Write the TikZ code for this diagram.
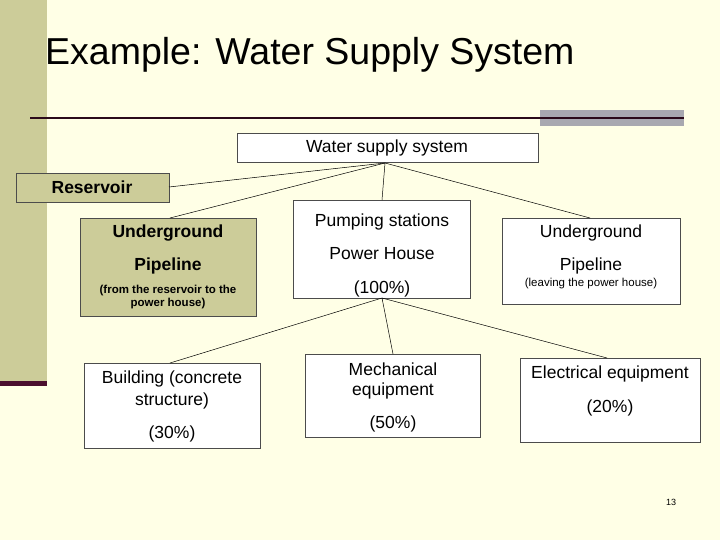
\documentclass[tikz,border=0pt]{standalone}
\usepackage{fontspec}
\setmainfont{Liberation Sans}
\definecolor{bg}{RGB}{255,255,230}
\definecolor{khaki}{RGB}{204,204,153}
\definecolor{maroon}{RGB}{75,15,46}
\definecolor{dark}{RGB}{43,10,26}
\definecolor{greybar}{RGB}{168,168,176}
\begin{document}
\begin{tikzpicture}[x=1pt,y=-1pt,
  box/.style={draw=black!70,line width=0.6pt,fill=white},
  kbox/.style={draw=black!70,line width=0.6pt,fill=khaki},
  t/.style={font=\fontsize{17.5}{20}\selectfont,inner sep=0pt},
  tb/.style={font=\bfseries\fontsize{17.5}{20}\selectfont,inner sep=0pt},
  ts/.style={font=\bfseries\fontsize{11.5}{13}\selectfont,inner sep=0pt,align=center},
  tsn/.style={font=\fontsize{11.5}{13}\selectfont,inner sep=0pt},
  con/.style={draw=black,line width=0.5pt}]
\fill[bg] (0,0) rectangle (720,540);
\useasboundingbox (0,0) rectangle (720,540);
\fill[khaki] (0,0) rectangle (47,382);
\fill[maroon] (0,381) rectangle (47,386);
\fill[greybar] (540,110) rectangle (684,126);
\fill[dark] (30,117) rectangle (684,119.5);
\node[anchor=west,inner sep=0pt,font=\fontsize{37.5}{40}\selectfont] (title) at (45,55) {Example: Water Supply System};
% boxes
\draw[box] (237,133) rectangle (538,162);
\node[t] (wss) at (387,148) {Water supply system};
\coordinate (wssb) at (385,163);
\draw[kbox] (16,173) rectangle (169,202);
\node[tb] (res) at (92,187) {Reservoir};
\coordinate (resr) at (169,187);
\draw[kbox] (80,218) rectangle (256,316);
\node[tb] (ul1) at (168,233) {Underground};
\node[tb] (ul2) at (168,266) {Pipeline};
\node[ts] (ul3) at (168,297) {(from the reservoir to the\\power house)};
\coordinate (ult) at (170,218);
\draw[box] (293,200) rectangle (470,298);
\node[t] (p1) at (382,222) {Pumping stations};
\node[t] (p2) at (382,254) {Power House};
\node[t] (p3) at (382,289) {(100\%)};
\coordinate (pt) at (382,200);
\coordinate (pb) at (382,298);
\draw[box] (502,218) rectangle (680,304);
\node[t] (ur1) at (591,233) {Underground};
\node[t] (ur2) at (591,266) {Pipeline};
\node[tsn] (ur3) at (591,284) {(leaving the power house)};
\coordinate (urt) at (590,218);
\draw[box] (84,363) rectangle (260,448);
\node[t] (b1) at (172,379) {Building (concrete};
\node[t] (b2) at (172,401) {structure)};
\node[t] (b3) at (172,434) {(30\%)};
\coordinate (bt) at (170,363);
\draw[box] (305,354) rectangle (480,437);
\node[t] (m1) at (393,369) {Mechanical};
\node[t] (m2) at (393,391) {equipment};
\node[t] (m3) at (393,424) {(50\%)};
\coordinate (mt) at (393,354);
\draw[box] (520,358) rectangle (700,442);
\node[t] (e1) at (610,374) {Electrical equipment};
\node[t] (e2) at (610,408) {(20\%)};
\coordinate (et) at (607,358);
% connectors
\draw[con] (wssb) -- (resr);
\draw[con] (wssb) -- (ult);
\draw[con] (wssb) -- (pt);
\draw[con] (wssb) -- (urt);
\draw[con] (pb) -- (bt);
\draw[con] (pb) -- (mt);
\draw[con] (pb) -- (et);
\node[inner sep=0pt,font=\fontsize{9}{10}\selectfont] (pg) at (671,502) {13};
\end{tikzpicture}
\end{document}
